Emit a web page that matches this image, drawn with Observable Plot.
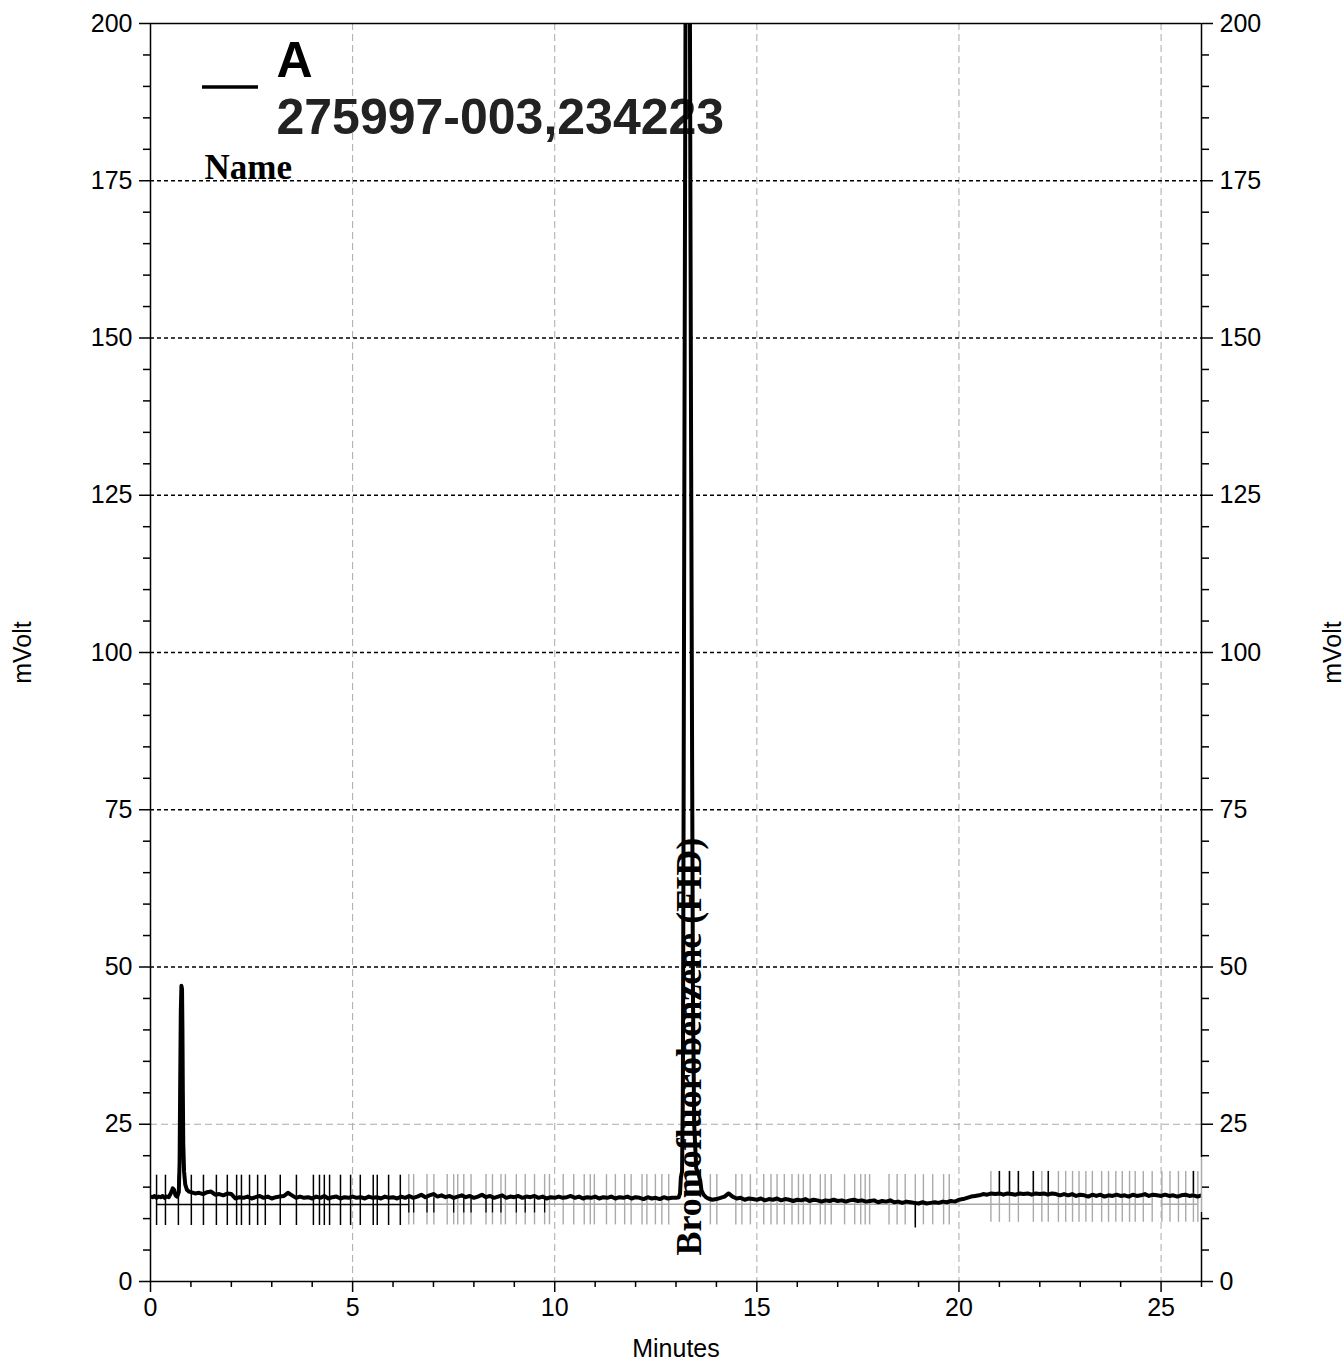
<!DOCTYPE html>
<html><head><meta charset="utf-8">
<script src="https://cdn.jsdelivr.net/npm/d3@7"></script>
<script src="https://cdn.jsdelivr.net/npm/@observablehq/plot@0.6"></script>
<style>html,body{margin:0;padding:0;background:#fff;}</style>
</head><body><div id="chart"></div>
<script>
// ---- text ----
const sampleName = "A";
const sampleId = "275997-003,234223";
const legendHeader = "Name";
const xLabel = "Minutes";
const yLabel = "mVolt";
const peakLabels = [{t: 13.33, name: "Bromofluorobenzene (FID)"}];

// ---- ticks / grid ----
const xMajorTicks = [0, 5, 10, 15, 20, 25];
const xMinorTicks = [1, 2, 3, 4, 6, 7, 8, 9, 11, 12, 13, 14, 16, 17, 18, 19, 21, 22, 23, 24, 26];
const yMajorTicks = [0, 25, 50, 75, 100, 125, 150, 175, 200];
const yMinorTicks = [5, 10, 15, 20, 30, 35, 40, 45, 55, 60, 65, 70, 80, 85, 90, 95, 105, 110, 115, 120,
  130, 135, 140, 145, 155, 160, 165, 170, 180, 185, 190, 195];
const gridX = [5, 10, 15, 20, 25];
const darkGridY = [50, 75, 100, 125, 150, 175];
const lightGridY = [25];

// ---- trace (mVolt) ----
const segAStart = 0.0, segAStep = 0.05;
const segA = [13.5, 13.4, 13.6, 13.3, 13.5, 13.4, 13.6, 13.3, 13.5, 13.4];
const peak1 = [[0.50, 14.0], [0.55, 14.8], [0.58, 14.6], [0.62, 13.7], [0.66, 13.5], [0.70, 14.2], [0.72, 19],
  [0.735, 32], [0.75, 43], [0.765, 47], [0.78, 46.5], [0.79, 40], [0.80, 30], [0.81, 22], [0.83, 17.5],
  [0.86, 15.4], [0.90, 14.6], [0.95, 14.3]];
const segBStart = 1.0, segBStep = 0.1;
const segB = [
  14.2, 14.0, 14.1, 13.9, 14.2, 14.3, 13.8, 13.9, 13.7, 14.0,
  13.9, 13.2, 13.4, 13.3, 13.5, 13.2, 13.4, 13.6, 13.3, 13.5,
  13.2, 13.4, 13.5, 13.6, 14.1, 13.7, 13.3, 13.5, 13.3, 13.4,
  13.2, 13.5, 13.3, 13.6, 13.2, 13.4, 13.5, 13.2, 13.4, 13.3,
  13.5, 13.3, 13.4, 13.2, 13.5, 13.3, 13.4, 13.2, 13.5, 13.3,
  13.4, 13.2, 13.5, 13.3, 13.6, 13.3, 13.5, 13.8, 13.4, 13.7,
  13.9, 13.5, 13.7, 13.4, 13.6, 13.3, 13.5, 13.7, 13.4, 13.6,
  13.3, 13.5, 13.8, 13.4, 13.6, 13.3, 13.5, 13.7, 13.3, 13.5,
  13.4, 13.6, 13.3, 13.5, 13.4, 13.6, 13.3, 13.5, 13.2, 13.4,
  13.3, 13.5, 13.3, 13.4, 13.6, 13.3, 13.5, 13.2, 13.4, 13.3,
  13.5, 13.2, 13.4, 13.3, 13.5, 13.2, 13.4, 13.3, 13.5, 13.2,
  13.4, 13.3, 13.1, 13.4, 13.2, 13.3, 13.1, 13.4, 13.2, 13.3];
const peak2 = [[13.00, 13.3], [13.07, 13.4], [13.10, 14.0], [13.12, 16.5], [13.15, 17.5], [13.17, 30],
  [13.19, 80], [13.215, 150], [13.235, 200], [13.26, 260], [13.29, 290], [13.32, 260], [13.345, 200],
  [13.37, 140], [13.40, 80], [13.42, 45], [13.45, 25], [13.50, 18], [13.56, 17], [13.60, 16], [13.63, 14.5],
  [13.68, 13.8], [13.74, 13.4]];
const segCStart = 13.8, segCStep = 0.1;
const segC = [
  13.2, 13.0,
  13.1, 13.3, 13.5, 14.0, 13.5, 13.2, 13.3, 13.0, 13.2, 13.1,
  13.0, 13.2, 12.9, 13.1, 13.0, 13.2, 12.9, 13.1, 13.0, 12.8,
  13.0, 12.9, 13.1, 12.8, 13.0, 12.9, 12.7, 12.9, 12.8, 13.0,
  12.8, 12.9, 12.7, 12.9, 13.0, 12.8, 12.9, 12.7, 12.8, 12.9,
  12.6, 12.8, 12.7, 12.9, 12.6, 12.7, 12.5, 12.7, 12.6, 12.5,
  12.4, 12.6, 12.4, 12.5, 12.6, 12.5, 12.7, 12.6, 12.8, 12.7,
  13.0, 13.1, 13.3, 13.5, 13.6, 13.7, 13.9, 13.8, 14.0, 13.9,
  14.0, 13.8, 14.0, 13.9, 13.8, 14.0, 13.9, 14.0, 13.8, 14.0,
  13.9, 14.0, 13.8, 14.0, 13.9, 13.7, 13.9, 13.7, 13.9, 13.6,
  13.8, 13.7, 13.5, 13.8, 13.6, 13.8, 13.5, 13.7, 13.6, 13.8,
  13.6, 13.7, 13.5, 13.8, 13.6, 13.7, 13.9, 13.6, 13.8, 13.7,
  13.6, 13.8, 13.6, 13.7, 13.5, 13.7, 13.8, 13.6, 13.7, 13.5,
  13.7];

// ---- integration baselines and event markers ----
const blackBaselines = [{t1: 0.15, t2: 6.39, mv: 12.25}];
const grayBaselines = [{t1: 6.39, t2: 24.78, mv: 12.3}, {t1: 25.02, t2: 25.91, mv: 12.3}];
const blackTickTimes = [0.15, 0.37, 0.69, 1.01, 1.31, 1.63, 1.90, 2.13, 2.25, 2.45, 2.65, 2.84, 3.21, 3.61,
  4.03, 4.18, 4.30, 4.43, 4.70, 4.95, 5.19, 5.51, 5.61, 5.89, 6.18];
const blackTickSpan = [8.9, 16.9];
const grayTickTimes = [6.39, 6.51, 6.84, 7.01, 7.34, 7.50, 7.60, 7.75, 7.93, 8.30, 8.46, 8.67, 8.78, 9.05,
  9.27, 9.50, 9.75, 9.87, 10.21, 10.47, 10.73, 10.88, 10.98, 11.28, 11.50, 11.73, 11.89, 12.16, 12.28,
  12.49, 12.65, 12.82, 13.85, 14.01, 14.48, 14.63, 14.84, 15.17, 15.35, 15.50, 15.68, 15.87, 16.03, 16.15,
  16.32, 16.57, 16.69, 16.84, 17.17, 17.42, 17.57, 17.68, 17.79, 18.27, 18.47, 18.67, 18.92, 19.12, 19.35,
  19.62, 19.76];
const grayTickSpan = [9.0, 17.0];
const grayTickTimesLate = [20.79, 21.00, 21.25, 21.47, 21.84, 22.05, 22.21, 22.46, 22.64, 22.81, 22.97,
  23.14, 23.30, 23.53, 23.70, 23.88, 24.04, 24.22, 24.36, 24.56, 24.78, 25.02, 25.22, 25.43, 25.61, 25.80, 25.91];
const grayTickSpanLate = [9.4, 17.5];
const blackMidTickTimes = [6.39, 6.51, 6.84, 7.01, 7.50, 7.75, 7.93, 8.30, 8.46, 8.67, 9.05, 9.27, 9.50, 9.75];
const blackMidSpan = [10.9, 13.3];
const blackTopTickTimes = [21.00, 21.25, 21.47, 21.84, 22.21, 25.80];
const blackTopSpan = [14.0, 17.5];
const blackLowTickTimes = [18.92];
const blackLowSpan = [8.5, 12.5];
const rightAxisBlack = [{t: 26, lo: 0, hi: 11}, {t: 26, lo: 19.7, hi: 200}];
const rightAxisGray = [{t: 26, lo: 11, hi: 19.7}];

// ---- build tables ----
const seg = (start, step, vals) => vals.map((v, i) => ({t: +(start + i * step).toFixed(3), mv: v}));
const pairs = (arr) => arr.map(([t, mv]) => ({t, mv}));
const trace = [...seg(segAStart, segAStep, segA), ...pairs(peak1), ...seg(segBStart, segBStep, segB),
  ...pairs(peak2), ...seg(segCStart, segCStep, segC)];
const ticks = (times, span) => times.map(t => ({t, lo: span[0], hi: span[1]}));

const sans = "'Liberation Sans', Arial, Helvetica, sans-serif";
const serif = "'Liberation Serif', 'Times New Roman', serif";

const chart = Plot.plot({
  width: 1344, height: 1361,
  marginLeft: 150, marginRight: 143, marginTop: 23, marginBottom: 80,
  x: {domain: [0, 26]},
  y: {domain: [0, 200]},
  style: {fontFamily: sans, fontSize: "25px", background: "#fff", color: "#000", overflow: "visible"},
  marks: [
    Plot.ruleX(gridX, {stroke: "#aaa", strokeDasharray: "7,4", strokeWidth: 1}),
    Plot.ruleY(lightGridY, {stroke: "#aaa", strokeDasharray: "7,4", strokeWidth: 1}),
    Plot.ruleY(darkGridY, {stroke: "#000", strokeDasharray: "4,3", strokeWidth: 1.3}),
    Plot.text([sampleName], {text: d => d, frameAnchor: "top-left", dx: 126, dy: 53, textAnchor: "start",
      lineAnchor: "bottom", fontSize: 50, fontWeight: "bold", fontFamily: sans, fill: "#000"}),
    Plot.text([sampleId], {text: d => d, frameAnchor: "top-left", dx: 126, dy: 110, textAnchor: "start",
      lineAnchor: "bottom", fontSize: 50, fontWeight: "bold", fontFamily: sans, fill: "#222"}),
    Plot.text([legendHeader], {text: d => d, frameAnchor: "top-left", dx: 54, dy: 155, textAnchor: "start",
      lineAnchor: "bottom", fontSize: 35, fontWeight: "bold", fontFamily: serif, fill: "#000"}),
    // integration baselines & markers
    Plot.ruleY(grayBaselines, {y: "mv", x1: "t1", x2: "t2", stroke: "#aaa", strokeWidth: 1.5}),
    Plot.ruleY(blackBaselines, {y: "mv", x1: "t1", x2: "t2", stroke: "#000", strokeWidth: 1.5}),
    Plot.ruleX(ticks(grayTickTimes, grayTickSpan), {x: "t", y1: "lo", y2: "hi", stroke: "#aaa", strokeWidth: 1.4}),
    Plot.ruleX(ticks(grayTickTimesLate, grayTickSpanLate), {x: "t", y1: "lo", y2: "hi", stroke: "#aaa", strokeWidth: 1.4}),
    Plot.ruleX(ticks(blackTickTimes, blackTickSpan), {x: "t", y1: "lo", y2: "hi", stroke: "#000", strokeWidth: 1.5}),
    Plot.ruleX(ticks(blackMidTickTimes, blackMidSpan), {x: "t", y1: "lo", y2: "hi", stroke: "#000", strokeWidth: 1.3}),
    Plot.ruleX(ticks(blackTopTickTimes, blackTopSpan), {x: "t", y1: "lo", y2: "hi", stroke: "#000", strokeWidth: 1.5}),
    Plot.ruleX(ticks(blackLowTickTimes, blackLowSpan), {x: "t", y1: "lo", y2: "hi", stroke: "#000", strokeWidth: 1.5}),
    // trace
    Plot.line(trace, {x: "t", y: "mv", stroke: "#000", strokeWidth: 4, clip: true, strokeLinejoin: "round"}),
    // frame / axes lines
    Plot.ruleY([0, 200], {stroke: "#000", strokeWidth: 1.5}),
    Plot.ruleX([0], {stroke: "#000", strokeWidth: 1.5}),
    Plot.ruleX(rightAxisBlack, {x: "t", y1: "lo", y2: "hi", stroke: "#000", strokeWidth: 1.5}),
    Plot.ruleX(rightAxisGray, {x: "t", y1: "lo", y2: "hi", stroke: "#aaa", strokeWidth: 1.5}),
    Plot.axisX({ticks: xMajorTicks, tickSize: 11, tickPadding: 6, fontSize: 25, label: null, strokeWidth: 1.5}),
    Plot.axisX({ticks: xMinorTicks, tickSize: 6, tickFormat: () => "", label: null, strokeWidth: 1.5}),
    Plot.axisY({anchor: "left", ticks: yMajorTicks, tickSize: 11, tickPadding: 7, fontSize: 25, label: null, strokeWidth: 1.5}),
    Plot.axisY({anchor: "left", ticks: yMinorTicks, tickSize: 7, tickFormat: () => "", label: null, strokeWidth: 1.5}),
    Plot.axisY({anchor: "right", ticks: yMajorTicks, tickSize: 11, tickPadding: 7, fontSize: 25, label: null, strokeWidth: 1.5}),
    Plot.axisY({anchor: "right", ticks: yMinorTicks, tickSize: 7, tickFormat: () => "", label: null, strokeWidth: 1.5}),
    // labels
    Plot.text([yLabel], {text: d => d, frameAnchor: "left", dx: -128, rotate: -90, textAnchor: "middle",
      lineAnchor: "middle", fontSize: 25, fontFamily: sans}),
    Plot.text([yLabel], {text: d => d, frameAnchor: "right", dx: 131, rotate: -90, textAnchor: "middle",
      lineAnchor: "middle", fontSize: 25, fontFamily: sans}),
    Plot.text([xLabel], {text: d => d, frameAnchor: "bottom", dy: 67, textAnchor: "middle",
      lineAnchor: "middle", fontSize: 25, fontFamily: sans}),
    Plot.text(peakLabels, {x: "t", text: "name", frameAnchor: "bottom", dy: -26, rotate: -90,
      textAnchor: "start", lineAnchor: "middle", fontSize: 36, fontWeight: "bold", fontFamily: serif, fill: "#000"})
  ]
});
document.getElementById("chart").appendChild(chart);

// legend swatch line (layout element, beside the sample name)
d3.select(chart).append("line")
  .attr("x1", 150 + 52).attr("x2", 150 + 108)
  .attr("y1", 23 + 64).attr("y2", 23 + 64)
  .attr("stroke", "#000").attr("stroke-width", 3.5);
</script>
</body></html>
